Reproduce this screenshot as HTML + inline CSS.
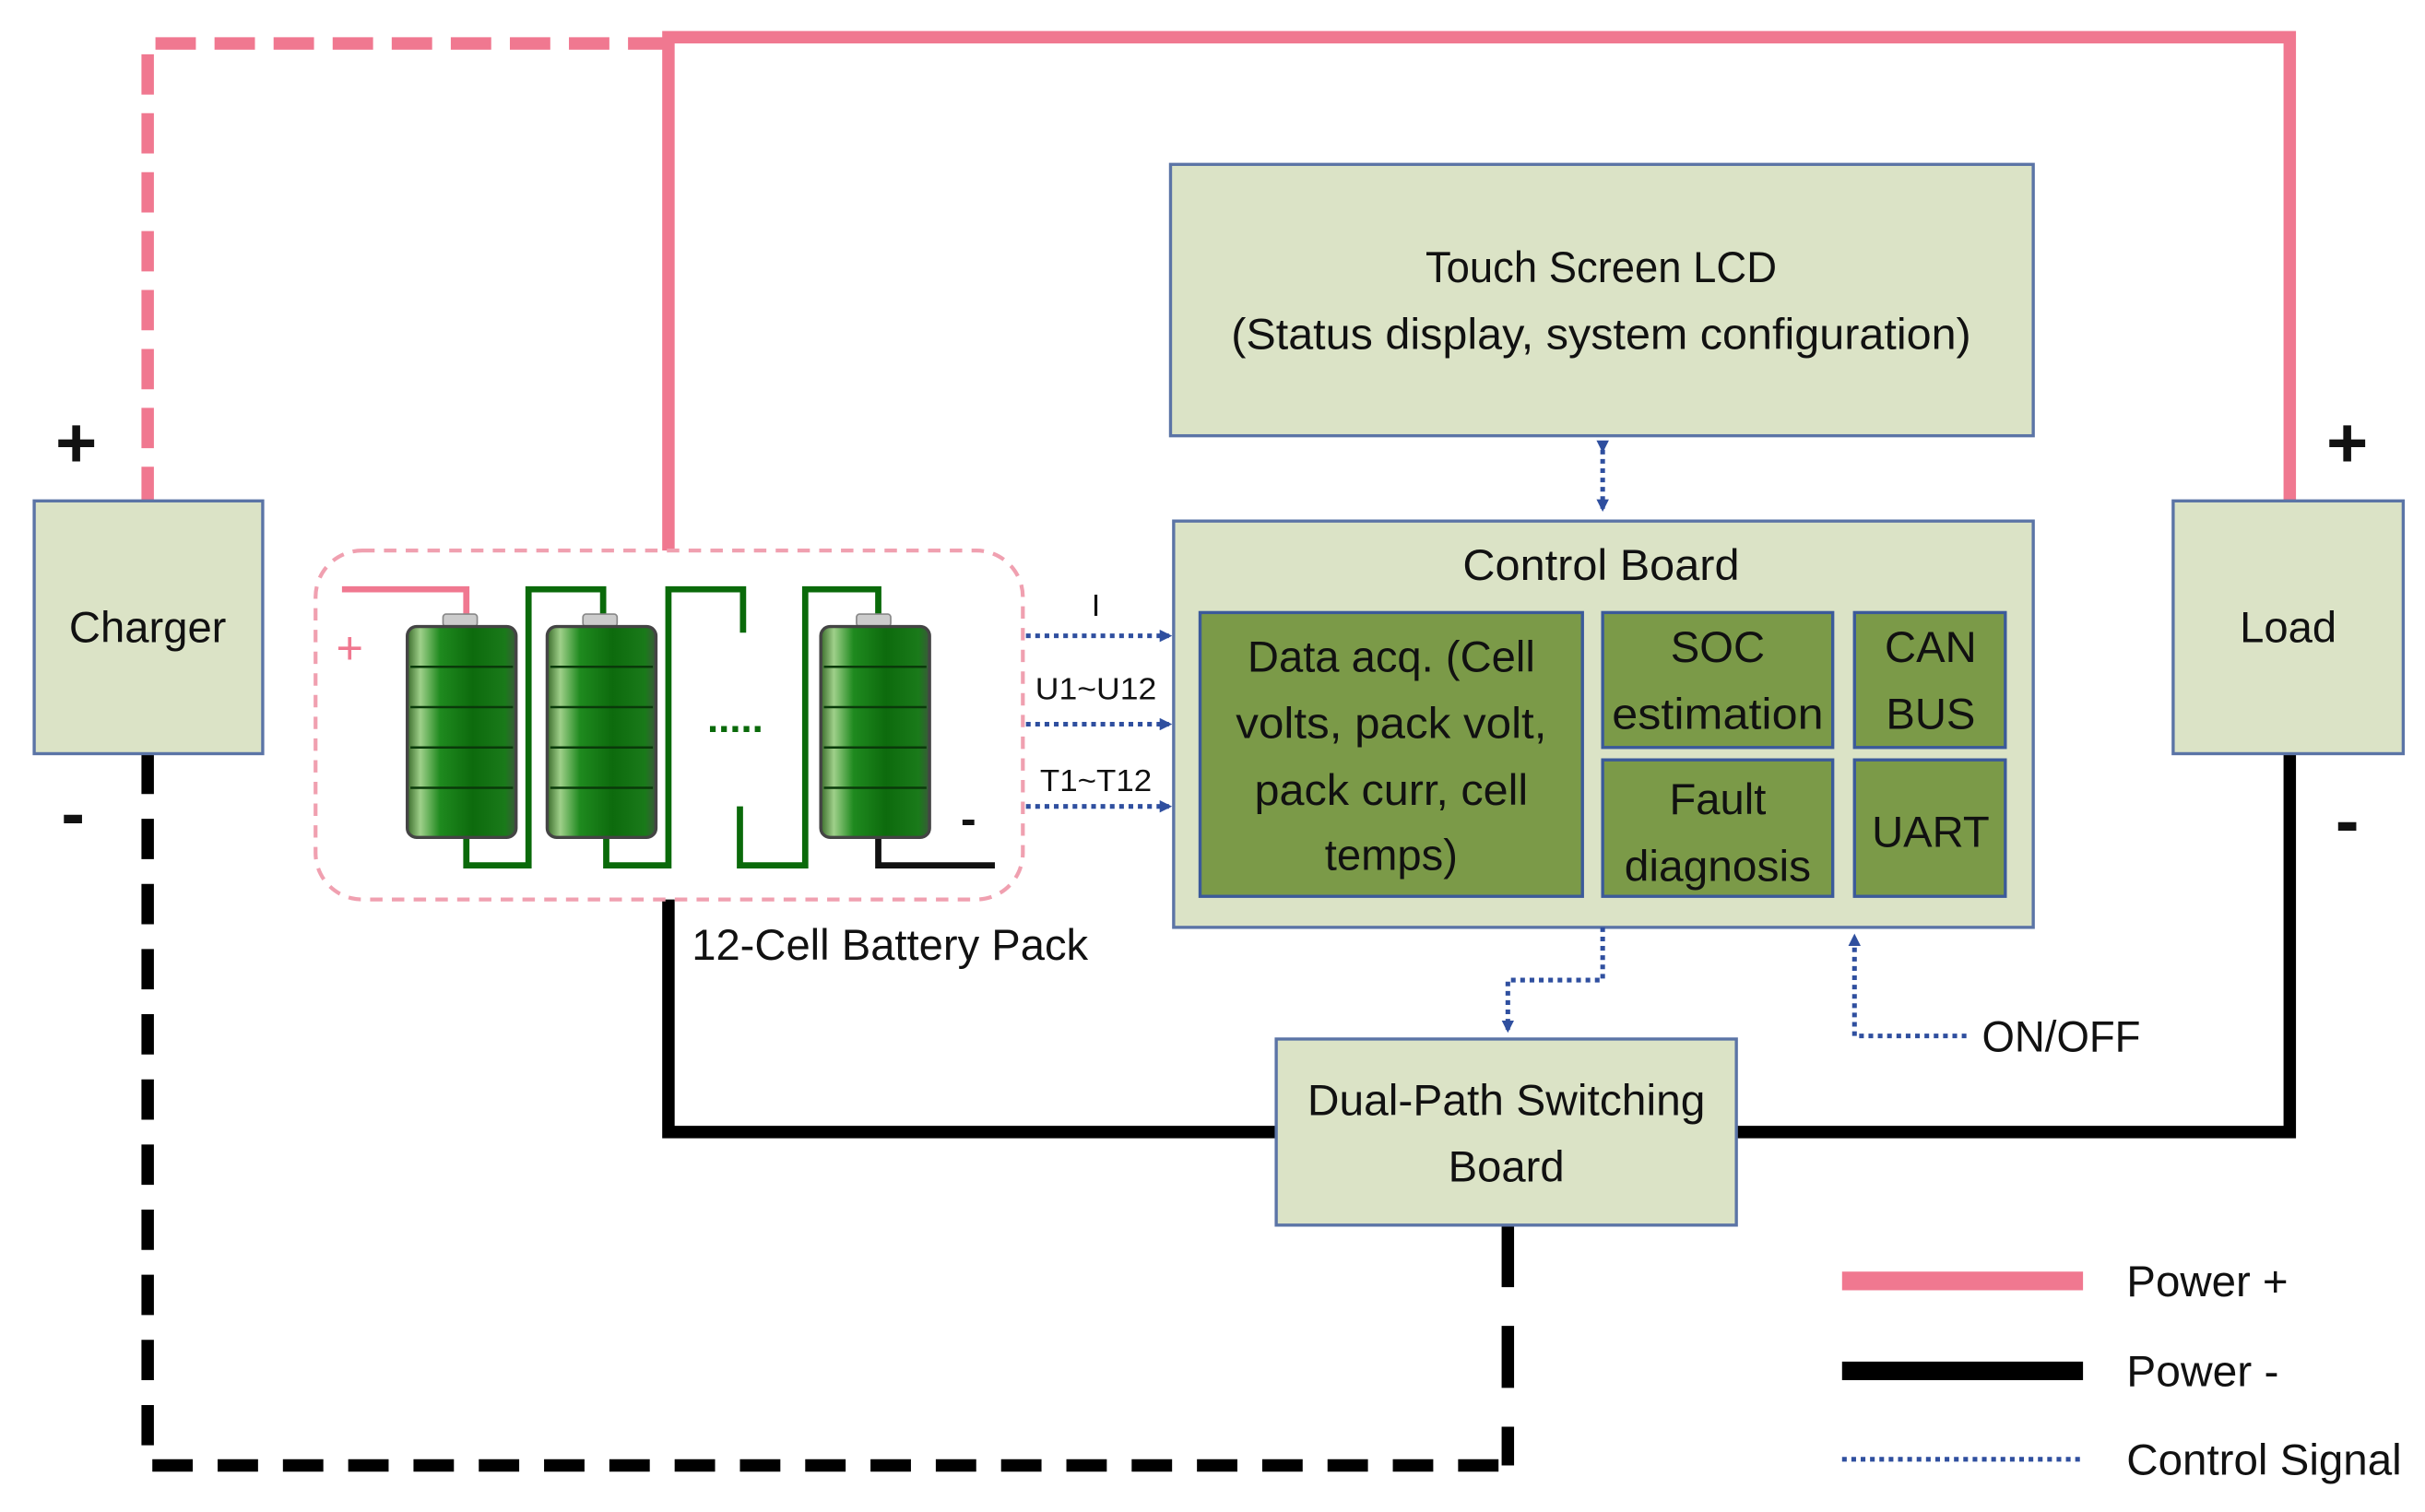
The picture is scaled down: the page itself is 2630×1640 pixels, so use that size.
<!DOCTYPE html>
<html><head><meta charset="utf-8"><style>
html,body{margin:0;padding:0;background:#fff;}
svg{display:block;}
text{font-family:"Liberation Sans Narrow","Liberation Sans",sans-serif;fill:#111;}
</style></head><body>
<svg width="2630" height="1640" viewBox="0 0 1560 975" preserveAspectRatio="none" xmlns="http://www.w3.org/2000/svg">
<defs>
<linearGradient id="bat" x1="0" x2="1" y1="0" y2="0">
<stop offset="0" stop-color="#3a6b2a"/><stop offset="0.12" stop-color="#9fd08a"/><stop offset="0.3" stop-color="#1f8a1f"/><stop offset="0.6" stop-color="#0d6b0d"/><stop offset="0.9" stop-color="#1a7a1a"/><stop offset="1" stop-color="#3a5a3a"/>
</linearGradient>
<marker id="ar" markerWidth="8" markerHeight="8" refX="6" refY="4" orient="auto" markerUnits="userSpaceOnUse"><path d="M0,0 L8,4 L0,8 z" fill="#2f4f9f"/></marker>
</defs>
<path d="M430,355 V24 H1473 V323" fill="none" stroke="#f07890" stroke-width="8"/>
<path d="M430,28 H95 V323" fill="none" stroke="#f07890" stroke-width="8" stroke-dasharray="26,12"/>
<path d="M95,486 V945 H965" fill="none" stroke="#000" stroke-width="8" stroke-dasharray="26,16"/>
<path d="M970,790 V945" fill="none" stroke="#000" stroke-width="8" stroke-dasharray="40,25"/>
<path d="M430,580 V730 H821 M1117,730 H1473 V486" fill="none" stroke="#000" stroke-width="8"/>
<g fill="#dbe3c6" stroke="#5b74a6" stroke-width="2">
<rect x="22" y="323" width="147" height="163"/>
<rect x="1398" y="323" width="148" height="163"/>
<rect x="753" y="106" width="555" height="175"/>
<rect x="755" y="336" width="553" height="262"/>
<rect x="821" y="670" width="296" height="120"/>
</g>
<g fill="#7b9a48" stroke="#3b5a9a" stroke-width="2">
<rect x="772" y="395" width="246" height="183"/>
<rect x="1031" y="395" width="148" height="87"/>
<rect x="1193" y="395" width="97" height="87"/>
<rect x="1031" y="490" width="148" height="88"/>
<rect x="1193" y="490" width="97" height="88"/>
</g>
<g font-size="28" text-anchor="middle" lengthAdjust="spacingAndGlyphs">
<text x="95" y="414">Charger</text>
<text x="1472" y="414">Load</text>
<text x="1030" y="182" textLength="226" lengthAdjust="spacingAndGlyphs">Touch Screen LCD</text>
<text x="1030" y="225" textLength="476" lengthAdjust="spacingAndGlyphs">(Status display, system configuration)</text>
<text x="1030" y="374" textLength="178" lengthAdjust="spacingAndGlyphs">Control Board</text>
<text x="895" y="433" textLength="185" lengthAdjust="spacingAndGlyphs">Data acq. (Cell</text>
<text x="895" y="476" textLength="200" lengthAdjust="spacingAndGlyphs">volts, pack volt,</text>
<text x="895" y="519" textLength="176" lengthAdjust="spacingAndGlyphs">pack curr, cell</text>
<text x="895" y="561">temps)</text>
<text x="1105" y="427">SOC</text>
<text x="1105" y="470" textLength="136" lengthAdjust="spacingAndGlyphs">estimation</text>
<text x="1242" y="427">CAN</text>
<text x="1242" y="470">BUS</text>
<text x="1105" y="525">Fault</text>
<text x="1105" y="568" textLength="120" lengthAdjust="spacingAndGlyphs">diagnosis</text>
<text x="1242" y="546">UART</text>
<text x="969" y="719" textLength="256" lengthAdjust="spacingAndGlyphs">Dual-Path Switching</text>
<text x="969" y="762">Board</text>
</g>
<g font-size="28">
<text x="445" y="619" textLength="255" lengthAdjust="spacingAndGlyphs">12-Cell Battery Pack</text>
<text x="1275" y="678" textLength="102" lengthAdjust="spacingAndGlyphs">ON/OFF</text>
<text x="1368" y="836" textLength="104" lengthAdjust="spacingAndGlyphs">Power +</text>
<text x="1368" y="894" textLength="98" lengthAdjust="spacingAndGlyphs">Power -</text>
<text x="1368" y="951" textLength="177" lengthAdjust="spacingAndGlyphs">Control Signal</text>
</g>
<g font-size="46" font-weight="bold" text-anchor="middle" font-family="Liberation Sans, sans-serif">
<text x="49" y="301">+</text><text x="1510" y="301">+</text>
<text x="47" y="540">-</text><text x="1510" y="545">-</text>
</g>
<g fill="none" stroke="#2f4f9f" stroke-width="3" stroke-dasharray="3,3">
<path d="M1031,290 V328" marker-end="url(#ar)" marker-start="url(#ar)"/>
<path d="M1031,598 V632 H970 V664" marker-end="url(#ar)"/>
<path d="M1265,668 H1193 V604" marker-end="url(#ar)"/>
<path d="M660,410 H752" marker-end="url(#ar)"/>
<path d="M660,467 H752" marker-end="url(#ar)"/>
<path d="M660,520 H752" marker-end="url(#ar)"/>
</g>
<g font-size="20" text-anchor="middle">
<text x="705" y="397">I</text>
<text x="705" y="451" textLength="78" lengthAdjust="spacingAndGlyphs">U1~U12</text>
<text x="705" y="510" textLength="72" lengthAdjust="spacingAndGlyphs">T1~T12</text>
</g>
<rect x="203" y="355" width="455" height="225" rx="30" fill="none" stroke="#f0a0b0" stroke-width="2.5" stroke-dasharray="8,6"/>
<path d="M220,380 H300 V400" fill="none" stroke="#f07890" stroke-width="4"/>
<g fill="none" stroke="#0a6a0a" stroke-width="4">
<path d="M300,540 V558 H340 V380 H388 V400"/>
<path d="M390,540 V558 H430 V380 H478 V408"/>
<path d="M476,520 V558 H518 V380 H565 V400"/>
</g>
<path d="M565,540 V558 H640" fill="none" stroke="#111" stroke-width="4"/>
<text x="225" y="428" font-size="30" style="fill:#f07890" text-anchor="middle" font-family="Liberation Sans, sans-serif">+</text>
<text x="623" y="538" font-size="30" text-anchor="middle" font-weight="bold">-</text>
<text x="473" y="472" font-size="26" text-anchor="middle" style="fill:#0a6a0a" font-weight="bold">.....</text>
<g>
<g id="b1">
<rect x="285" y="396" width="22" height="8" rx="2" fill="#ccc" stroke="#888"/>
<rect x="262" y="404" width="70" height="136" rx="6" fill="url(#bat)" stroke="#444" stroke-width="2"/>
<g stroke="#0a3a0a" stroke-width="1.5"><line x1="264" y1="430" x2="330" y2="430"/><line x1="264" y1="456" x2="330" y2="456"/><line x1="264" y1="482" x2="330" y2="482"/><line x1="264" y1="508" x2="330" y2="508"/></g>
</g>
<use href="#b1" x="90"/>
<use href="#b1" x="266"/>
</g>
<line x1="1185" y1="826" x2="1340" y2="826" stroke="#f07890" stroke-width="12"/>
<line x1="1185" y1="884" x2="1340" y2="884" stroke="#000" stroke-width="12"/>
<line x1="1185" y1="941" x2="1340" y2="941" stroke="#2f4f9f" stroke-width="3" stroke-dasharray="3,3"/>
</svg>
</body></html>
